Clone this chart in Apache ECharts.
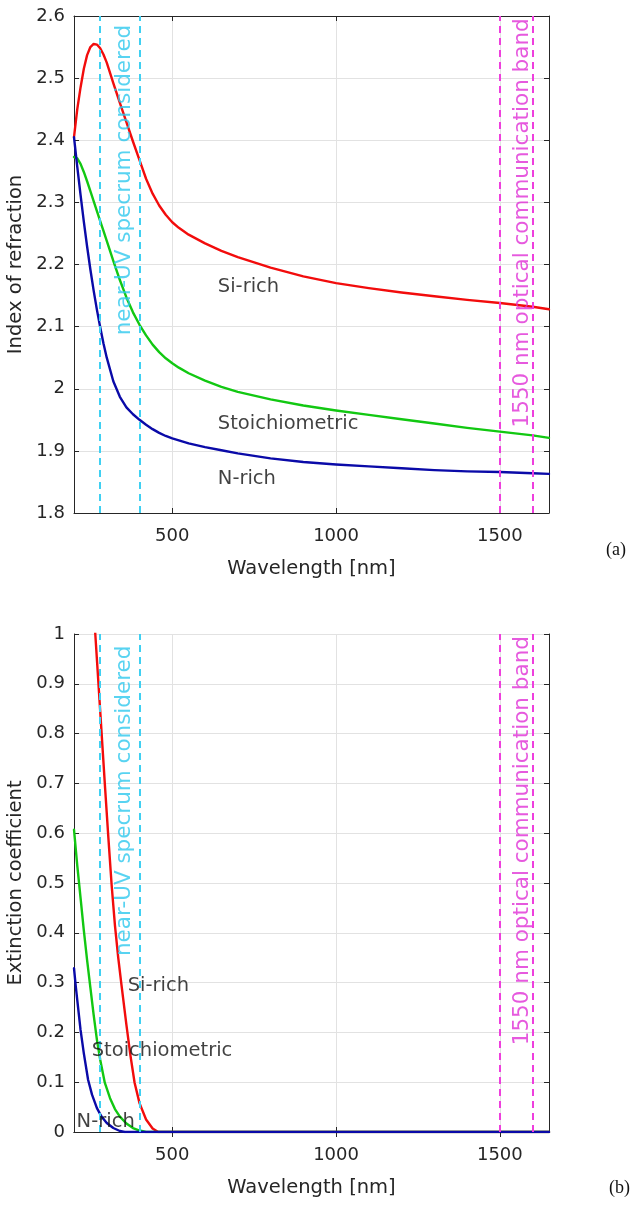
<!DOCTYPE html>
<html><head><meta charset="utf-8">
<script src="https://cdn.jsdelivr.net/npm/echarts@6/dist/echarts.min.js"></script>
<style>html,body{margin:0;padding:0;background:#fff}#c{width:644px;height:1205px}</style>
</head><body><div id="c"></div>
<script>
// ---------- data ----------
const xTickValues = [500, 1000, 1500];

// Panel (a): index of refraction
const wlA = [200,210,220,230,240,250,260,270,280,290,300,320,340,360,380,400,420,440,460,480,500,520,550,600,650,700,800,900,1000,1100,1200,1300,1400,1500,1600,1650];
const siRichN = [2.405,2.45,2.485,2.515,2.537,2.55,2.555,2.554,2.548,2.538,2.525,2.492,2.46,2.429,2.398,2.368,2.338,2.314,2.295,2.28,2.268,2.259,2.248,2.234,2.222,2.212,2.195,2.181,2.17,2.162,2.155,2.149,2.143,2.138,2.132,2.128];
const stoichN = [2.373,2.371,2.362,2.349,2.334,2.318,2.302,2.286,2.27,2.254,2.238,2.206,2.175,2.147,2.123,2.103,2.086,2.071,2.059,2.049,2.041,2.034,2.025,2.013,2.003,1.995,1.983,1.973,1.965,1.958,1.951,1.944,1.937,1.931,1.925,1.921];
const nRichN = [2.405,2.357,2.312,2.269,2.229,2.192,2.158,2.127,2.099,2.073,2.05,2.012,1.987,1.97,1.959,1.95,1.942,1.935,1.929,1.924,1.92,1.917,1.912,1.906,1.901,1.896,1.888,1.882,1.878,1.875,1.872,1.869,1.867,1.866,1.864,1.863];

// Panel (b): extinction coefficient
const wlSiK = [250,265,280,295,305,315,325,335,345,360,372,385,400,420,440,457,600,1000,1650];
const siRichK = [1.155,1.0,0.845,0.69,0.59,0.495,0.415,0.35,0.295,0.215,0.155,0.099,0.058,0.025,0.007,0.0,0,0,0];
const wlStK = [200,210,220,230,240,250,260,270,280,294,310,325,340,360,380,400,420,600,1000,1650];
const stoichK = [0.607,0.535,0.47,0.405,0.345,0.29,0.235,0.185,0.145,0.099,0.068,0.046,0.031,0.017,0.008,0.003,0.0,0,0,0];
const wlNK = [200,205,210,220,230,243,255,270,284,300,320,340,355,400,600,1000,1650];
const nRichK = [0.329,0.295,0.265,0.205,0.158,0.105,0.075,0.048,0.031,0.018,0.008,0.002,0.0,0,0,0,0];

// reference wavelengths
const uvLines = [280, 400];
const bandLines = [1500, 1600];

// texts
const seriesNames = ['Si-rich', 'Stoichiometric', 'N-rich'];
const uvText = 'near-UV specrum considered';
const bandText = '1550 nm optical communication band';

// ---------- layout / style (kept apart from data) ----------
const notePosA = [[639, 2.164], [639, 1.944], [639, 1.855]];
const notePosB = [[364, 0.294], [254, 0.163], [208, 0.021]];
const uvTextPos = [[355, 2.336], [355, 0.665]];
const bandTextPos = [[1568, 2.267], [1568, 0.585]];
const colors = ['#f20c0c', '#12c812', '#0a0aa8'];
const AX = '#262626';
const FONT = 'DejaVu Sans';

const pairs = (xs, ys) => xs.map((x, i) => [x, ys[i]]);

function xAxes(gi) {
  const common = {
    type: 'value', gridIndex: gi, min: 200, max: 1650,
    axisLine: { show: true, lineStyle: { color: AX, width: 1 } },
    axisTick: { show: true, inside: true, length: 5, customValues: xTickValues, lineStyle: { color: AX } },
  };
  return [
    Object.assign({}, common, {
      position: 'bottom',
      name: 'Wavelength [nm]', nameLocation: 'middle', nameGap: 46,
      nameTextStyle: { fontFamily: FONT, fontSize: 19.5, color: AX },
      axisLabel: { show: true, customValues: xTickValues, margin: 14, fontFamily: FONT, fontSize: 18, color: AX,
                   formatter: v => String(v) },
      splitLine: { show: true, lineStyle: { color: '#e2e2e2', width: 1 } }
    }),
    Object.assign({}, common, {
      position: 'top', axisLabel: { show: false }, splitLine: { show: false }
    })
  ];
}
function yAxes(gi, min, max, name) {
  const common = {
    type: 'value', gridIndex: gi, min: min, max: max, interval: 0.1,
    axisLine: { show: true, lineStyle: { color: AX, width: 1 } },
    axisTick: { show: true, inside: true, length: 5, lineStyle: { color: AX } },
  };
  return [
    Object.assign({}, common, {
      position: 'left',
      name: name, nameLocation: 'middle', nameGap: 39,
      nameTextStyle: { fontFamily: FONT, fontSize: 19.5, color: AX },
      axisLabel: { show: true, margin: 9, fontFamily: FONT, fontSize: 18, color: AX },
      splitLine: { show: true, lineStyle: { color: '#e2e2e2', width: 1 } }
    }),
    Object.assign({}, common, {
      position: 'right', axisLabel: { show: false }, splitLine: { show: false }
    })
  ];
}

function curve(xi, yi, data, color) {
  return {
    type: 'line', xAxisIndex: xi, yAxisIndex: yi, data: data,
    showSymbol: false, smooth: false, clip: true, sampling: null,
    lineStyle: { color: color, width: 2.4, join: 'round', cap: 'round' }, z: 3, silent: true
  };
}
function refLines(xi, yi, values, color) {
  return {
    type: 'line', xAxisIndex: xi, yAxisIndex: yi, data: [], z: 4, silent: true,
    markLine: {
      silent: true, symbol: ['none', 'none'], animation: false,
      label: { show: false },
      lineStyle: { color: color, type: [7, 5], width: 2 },
      data: values.map(v => ({ xAxis: v }))
    }
  };
}
function notes(xi, yi, positions) {
  return {
    type: 'scatter', xAxisIndex: xi, yAxisIndex: yi, symbolSize: 0, z: 5, silent: true,
    data: positions.map((p, i) => ({ value: p, name: seriesNames[i] })),
    label: { show: true, position: 'right', distance: 0, formatter: '{b}',
             fontFamily: FONT, fontSize: 19.5, color: '#111111' }
  };
}
function vtext(xi, yi, pos, text, color) {
  return {
    type: 'scatter', xAxisIndex: xi, yAxisIndex: yi, symbolSize: 0, z: 6, silent: true,
    data: [{ value: pos, name: text }],
    label: { show: true, position: 'inside', rotate: 90, align: 'center', verticalAlign: 'middle',
             formatter: '{b}', fontFamily: FONT, fontSize: 21.5, color: color }
  };
}

const chart = echarts.init(document.getElementById('c'), null, { renderer: 'canvas' });
chart.setOption({
  animation: false,
  backgroundColor: '#ffffff',
  grid: [
    { left: 74, top: 16, width: 475, height: 497, outerBoundsMode: 'none' },
    { left: 74, top: 634, width: 475, height: 498, outerBoundsMode: 'none' }
  ],
  xAxis: [...xAxes(0), ...xAxes(1)],
  yAxis: [...yAxes(0, 1.8, 2.6, 'Index of refraction'), ...yAxes(1, 0, 1, 'Extinction coefficient')],
  series: [
    curve(0, 0, pairs(wlA, siRichN), colors[0]),
    curve(0, 0, pairs(wlA, stoichN), colors[1]),
    curve(0, 0, pairs(wlA, nRichN), colors[2]),
    refLines(0, 0, uvLines, '#3fd0f2'),
    refLines(0, 0, bandLines, '#ee3fdd'),
    notes(0, 0, notePosA),
    vtext(0, 0, uvTextPos[0], uvText, '#2ec8ee'),
    vtext(0, 0, bandTextPos[0], bandText, '#e02fd6'),

    curve(2, 2, pairs(wlSiK, siRichK), colors[0]),
    curve(2, 2, pairs(wlStK, stoichK), colors[1]),
    curve(2, 2, pairs(wlNK, nRichK), colors[2]),
    refLines(2, 2, uvLines, '#3fd0f2'),
    refLines(2, 2, bandLines, '#ee3fdd'),
    notes(2, 2, notePosB),
    vtext(2, 2, uvTextPos[1], uvText, '#2ec8ee'),
    vtext(2, 2, bandTextPos[1], bandText, '#e02fd6')
  ],
  graphic: [
    { type: 'text', left: 606, top: 541, style: { text: '(a)', font: '18px "Liberation Serif"', fill: '#111' } },
    { type: 'text', left: 609, top: 1179, style: { text: '(b)', font: '18px "Liberation Serif"', fill: '#111' } }
  ]
});
</script>
</body></html>
